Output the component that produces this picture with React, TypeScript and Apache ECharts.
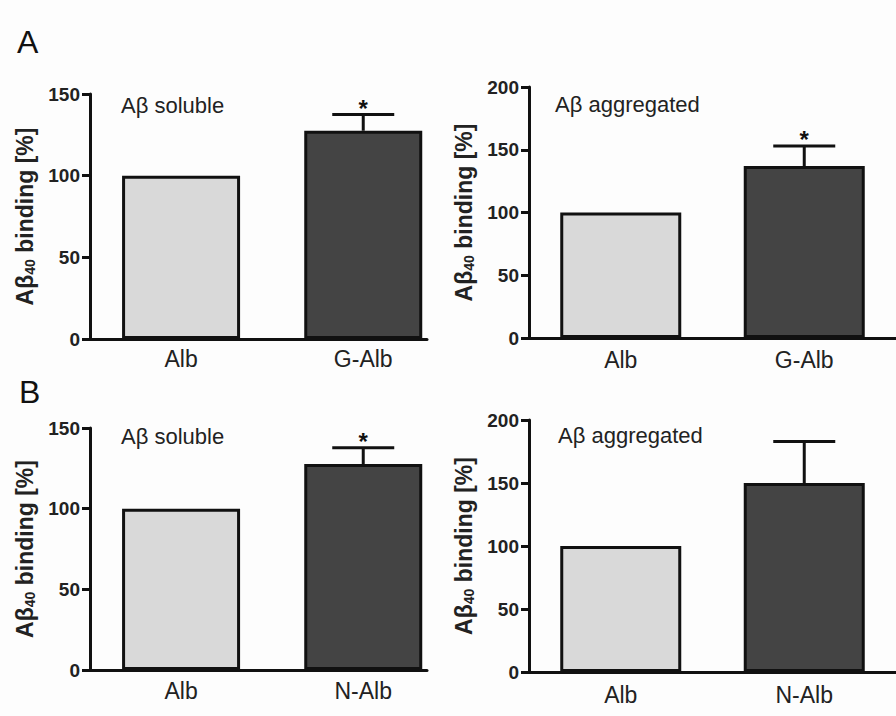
import React, { useEffect, useRef } from "react";
import * as echarts from "echarts";

const FONT = "'Liberation Sans', Arial, Helvetica, sans-serif";

// Panel A (glycated albumin)
const categoriesA = ["Alb", "G-Alb"];
const solubleA = [100, 127.5];
const solubleAErr = [0, 10];
const solubleASig = ["", "*"];
const aggregatedA = [100, 137];
const aggregatedAErr = [0, 16];
const aggregatedASig = ["", "*"];

// Panel B (N-albumin)
const categoriesB = ["Alb", "N-Alb"];
const solubleB = [100, 127.7];
const solubleBErr = [0, 10];
const solubleBSig = ["", "*"];
const aggregatedB = [100, 150];
const aggregatedBErr = [0, 33];
const aggregatedBSig = ["", ""];

const yTicksSoluble = { max: 150, interval: 50 };
const yTicksAggregated = { max: 200, interval: 50 };

const barColors = ["#d9d9d9", "#444444"];

const panels = [
  { cats: categoriesA, vals: solubleA, errs: solubleAErr, sig: solubleASig, y: yTicksSoluble, grid: { left: 90, top: 94, width: 337, height: 245 }, xmax: 2.35, barW: 118, labelMargin: 8 },
  { cats: categoriesA, vals: aggregatedA, errs: aggregatedAErr, sig: aggregatedASig, y: yTicksAggregated, grid: { left: 529, top: 87, width: 373, height: 251 }, xmax: 2.5, barW: 121, labelMargin: 10 },
  { cats: categoriesB, vals: solubleB, errs: solubleBErr, sig: solubleBSig, y: yTicksSoluble, grid: { left: 90, top: 428, width: 337, height: 242 }, xmax: 2.35, barW: 118, labelMargin: 9 },
  { cats: categoriesB, vals: aggregatedB, errs: aggregatedBErr, sig: aggregatedBSig, y: yTicksAggregated, grid: { left: 529, top: 420, width: 373, height: 252 }, xmax: 2.5, barW: 121, labelMargin: 11 },
];

const panelTitles = [
  { text: "Aβ soluble", left: 121, top: 94 },
  { text: "Aβ aggregated", left: 555, top: 93 },
  { text: "Aβ soluble", left: 121, top: 425 },
  { text: "Aβ aggregated", left: 558, top: 424 },
];

const panelLetters = [
  { text: "A", left: 17, top: 26 },
  { text: "B", left: 19, top: 376 },
];

export default function App() {
  const ref = useRef<HTMLDivElement>(null);

  useEffect(() => {
    if (!ref.current) return;
    const chart = echarts.init(ref.current, undefined, { renderer: "svg" });
    const axisColor = "#111";

    const grid = panels.map((p) => ({ ...p.grid, containLabel: false }));

    const xAxis = panels.map((p, i) => ({
      type: "value",
      gridIndex: i,
      min: 0.5,
      max: p.xmax,
      axisLine: { show: true, onZero: false, lineStyle: { color: axisColor, width: 3 } },
      axisTick: { show: false },
      splitLine: { show: false },
      axisLabel: {
        customValues: p.cats.map((_, k) => k + 1),
        formatter: (v: number) => p.cats[Math.round(v) - 1] ?? "",
        fontSize: 23,
        color: "#222",
        fontFamily: FONT,
        margin: p.labelMargin,
      },
    }));

    const yAxis = panels.map((p, i) => ({
      type: "value",
      gridIndex: i,
      min: 0,
      max: p.y.max,
      interval: p.y.interval,
      axisLine: { show: true, onZero: false, lineStyle: { color: axisColor, width: 3 } },
      axisTick: { show: true, length: 8, lineStyle: { color: axisColor, width: 3 } },
      splitLine: { show: false },
      axisLabel: { fontSize: 19, fontWeight: "bold", color: "#222", fontFamily: FONT, margin: 10 },
      name: "{a|Aβ}{s|40}{a| binding [%]}",
      nameLocation: "middle",
      nameRotate: 90,
      nameGap: 53,
      nameTextStyle: {
        fontFamily: FONT,
        fontSize: 23,
        fontWeight: "bold",
        color: "#222",
        rich: {
          a: { fontFamily: FONT, fontSize: 23, fontWeight: "bold", color: "#222", lineHeight: 24, verticalAlign: "top" },
          s: { fontFamily: FONT, fontSize: 14, fontWeight: "bold", color: "#222", lineHeight: 8, verticalAlign: "bottom" },
        },
      },
    }));

    const series: any[] = [];
    panels.forEach((p, i) => {
      series.push({
        type: "bar",
        xAxisIndex: i,
        yAxisIndex: i,
        barWidth: p.barW,
        data: p.vals.map((v, k) => ({
          value: [k + 1, v],
          itemStyle: { color: barColors[k], borderColor: axisColor, borderWidth: 3 },
        })),
        z: 2,
      });
      series.push({
        type: "custom",
        xAxisIndex: i,
        yAxisIndex: i,
        z: 3,
        data: p.vals.map((v, k) => [k + 1, v, p.errs[k]]),
        renderItem: (params: any, api: any) => {
          const k = params.dataIndex;
          const x = api.value(0);
          const m = api.value(1);
          const e = api.value(2);
          if (!e) return null;
          const p0 = api.coord([x, m]);
          const p1 = api.coord([x, m + e]);
          const half = 31;
          const children: any[] = [
            { type: "line", shape: { x1: p0[0], y1: p0[1], x2: p1[0], y2: p1[1] }, style: { stroke: axisColor, lineWidth: 3 } },
            { type: "line", shape: { x1: p1[0] - half, y1: p1[1], x2: p1[0] + half, y2: p1[1] }, style: { stroke: axisColor, lineWidth: 3 } },
          ];
          if (p.sig[k]) {
            children.push({
              type: "text",
              style: {
                text: p.sig[k],
                x: p1[0],
                y: p1[1] - 6,
                align: "center",
                verticalAlign: "middle",
                fontSize: 24,
                fontWeight: "bold",
                fontFamily: FONT,
                fill: "#111",
              },
            });
          }
          return { type: "group", children };
        },
      });
    });

    const title = [
      ...panelLetters.map((t) => ({
        text: t.text,
        left: t.left,
        top: t.top,
        padding: 0,
        textStyle: { fontSize: 32, fontWeight: "normal", color: "#111", fontFamily: FONT },
      })),
      ...panelTitles.map((t) => ({
        text: t.text,
        left: t.left,
        top: t.top,
        padding: 0,
        textStyle: { fontSize: 22, fontWeight: "normal", color: "#222", fontFamily: FONT },
      })),
    ];

    chart.setOption({
      animation: false,
      backgroundColor: "#fdfdfd",
      title,
      grid,
      xAxis,
      yAxis,
      series,
    } as any);

    return () => chart.dispose();
  }, []);

  return <div ref={ref} style={{ position: "absolute", left: 0, top: 0, width: 896, height: 716 }} />;
}
